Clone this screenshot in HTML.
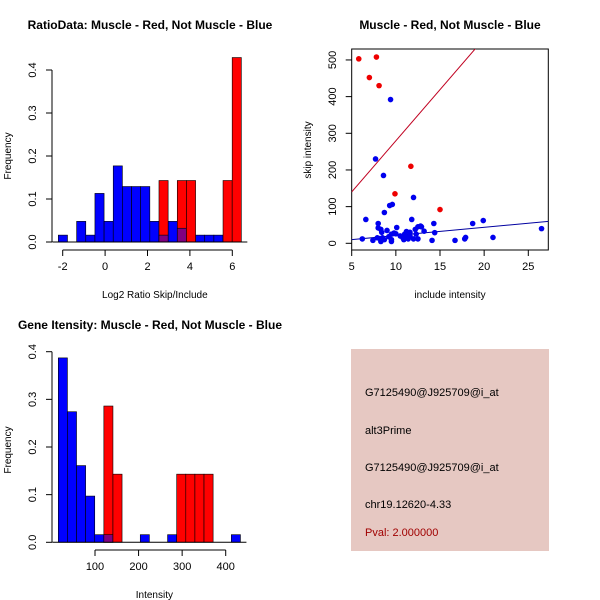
<!DOCTYPE html>
<html><head><meta charset="utf-8"><style>
body{margin:0;background:#fff;}
svg{display:block;font-family:"Liberation Sans",sans-serif;}
</style></head><body>
<svg id="c" width="600" height="600" viewBox="0 0 600 600" xmlns="http://www.w3.org/2000/svg">
<rect width="600" height="600" fill="#fff"/>
<text x="150" y="29" text-anchor="middle" font-size="12" font-weight="bold">RatioData: Muscle - Red, Not Muscle - Blue</text>
<text x="450" y="29" text-anchor="middle" font-size="12" font-weight="bold">Muscle - Red, Not Muscle - Blue</text>
<text x="150" y="329" text-anchor="middle" font-size="12" font-weight="bold">Gene Itensity: Muscle - Red, Not Muscle - Blue</text>
<g id="p1"></g>
<g id="p2"></g>
<g id="p3"></g>
<g>
<rect x="351" y="349" width="198" height="202" fill="#e6c8c2"/>
<text x="365" y="396" font-size="11">G7125490@J925709@i_at</text>
<text x="365" y="434" font-size="11">alt3Prime</text>
<text x="365" y="471" font-size="11">G7125490@J925709@i_at</text>
<text x="365" y="508" font-size="11">chr19.12620-4.33</text>
<text x="365" y="536" font-size="11" fill="#a00000">Pval: 2.000000</text>
</g>
</svg>
<script>
// Ratio histogram data
const ratioBinStart = -2.206, ratioBinWidth = 0.4316;
const ratioBlue = [0.016,0,0.048,0.016,0.113,0.048,0.177,0.129,0.129,0.129,0.048,0.016,0.048,0.032,0,0.016,0.016,0.016,0,0];
const ratioRed  = [0,0,0,0,0,0,0,0,0,0,0,0.143,0,0.143,0.143,0,0,0,0.143,0.429];
const ratioXTicks = [-2,0,2,4,6];
const freqTicks = ["0.0","0.1","0.2","0.3","0.4"];
// Intensity histogram data
const intBinStart = 15.8, intBinWidth = 20.9;
const intBlue = [0.387,0.274,0.161,0.097,0.016,0.016,0,0,0,0.016,0,0,0.016,0,0,0,0,0,0,0.016];
const intRed  = [0,0,0,0,0,0.286,0.143,0,0,0,0,0,0,0.143,0.143,0.143,0.143,0,0,0];
const intXTicks = [100,200,300,400];
// Scatter data
const redX = [5.8,7.8,7,8.1,11.7,9.9,15];
const redY = [503,508,452,430,210,135,92];
const blueX = [9.4,7.7,8.6,12,9.3,9.6,8.7,6.6,11.8,8,14.3,18.7,19.9,8,10.1,8.3,9,12.5,12.8,12.9,12.2,13.2,11.2,11.6,14.4,8.4,9.8,9.5,10,6.2,7.4,7.9,8.2,8.5,8.3,8.7,9.2,9.5,9.5,10.5,10.8,10.9,11.2,11.4,11.6,12,12.3,12.5,11,14.1,16.7,17.8,17.9,21,26.5];
const blueY = [392,230,185,125,103,106,84,65,65,54,54,54,62,42,43,38,35,45,47,45,38,33,32,30,29,30,28,25,26,12,8,15,13,15,5,10,18,10,5,20,15,10,18,12,20,12,25,12,25,8,8,12,16,16,40];
const redLine = [140, 27.9];   // intercept at x=5, slope
const blueLine = [10, 2.24];
const scXTicks = [5,10,15,20,25];
const scYTicks = [0,100,200,300,400,500];

const NS="http://www.w3.org/2000/svg";
function mk(parent,tag,attrs,name){const e=document.createElementNS(NS,tag);for(const k in attrs)e.setAttribute(k,attrs[k]);


parent.appendChild(e);return e;}
function txt(parent,x,y,s,name,extra){const t=mk(parent,'text',Object.assign({x:x,y:y,'font-size':11,'text-anchor':'middle'},extra||{}),name);t.textContent=s;return t;}

function hist(g,xs,ys,y0,start,w,blue,red,xticks,xlab,axisY,yLabY){
  const n=blue.length;
  for(let i=0;i<n;i++){
    const x1=xs(start+i*w),x2=xs(start+(i+1)*w);
    if(blue[i]>0) mk(g,'rect',{x:x1,y:ys(blue[i]),width:x2-x1,height:y0-ys(blue[i]),fill:'#0000ff',stroke:'#000','stroke-width':0.6},'blue-bar');
  }
  for(let i=0;i<n;i++){
    const x1=xs(start+i*w),x2=xs(start+(i+1)*w);
    if(red[i]>0){
      mk(g,'rect',{x:x1,y:ys(red[i]),width:x2-x1,height:y0-ys(red[i]),fill:'#ff0000',stroke:'#000','stroke-width':0.6},'red-bar');
      const m=Math.min(red[i],blue[i]);
      if(m>0) mk(g,'rect',{x:x1,y:ys(m),width:x2-x1,height:y0-ys(m),fill:'#800080',stroke:'#000','stroke-width':0.6},'overlap-bar');
    }
  }
  const xa=xs(start),xb=xs(start+n*w);
  mk(g,'line',{x1:xa-6,x2:xb+6,y1:y0,y2:y0,stroke:'#000'},'baseline');
  const ya=ys(0),yb=ys(0.4);
  mk(g,'line',{x1:52,x2:52,y1:ya,y2:yb,stroke:'#000'},'y-axis');
  freqTicks.forEach((s,i)=>{const y=ys(i*0.1);mk(g,'line',{x1:46,x2:52,y1:y,y2:y,stroke:'#000'},'y-tick');
    txt(g,0,0,s,'y-tick-label',{transform:`translate(36,${y}) rotate(-90)`});});
  txt(g,0,0,'Frequency','y-axis-title',{transform:`translate(11,${yLabY}) rotate(-90)`,'font-size':10});
  mk(g,'line',{x1:xs(xticks[0]),x2:xs(xticks[xticks.length-1]),y1:axisY,y2:axisY,stroke:'#000'},'x-axis');
  xticks.forEach(v=>{const x=xs(v);mk(g,'line',{x1:x,x2:x,y1:axisY,y2:axisY+6,stroke:'#000'},'x-tick');txt(g,x,axisY+20,String(v),'x-tick-label');});
  txt(g,(xa+xb)/2+5,axisY+48,xlab,'x-axis-title',{'font-size':10});
}
{const g=document.getElementById('p1');
 const xs=v=>62.7+(v+2)*21.2, y0=242, ys=v=>y0-v*430;
 hist(g,xs,ys,y0,ratioBinStart,ratioBinWidth,ratioBlue,ratioRed,ratioXTicks,'Log2 Ratio Skip/Include',250,156);}
{const g=document.getElementById('p3');
 const xs=v=>95+(v-100)*0.4357, y0=542.3, ys=v=>y0-v*476.5;
 hist(g,xs,ys,y0,intBinStart,intBinWidth,intBlue,intRed,intXTicks,'Intensity',550,450);}
{const g=document.getElementById('p2');
 const L=351.7,R=548.3,T=49,B=250;
 const xs=v=>351.7+(v-5)*8.83, ys=v=>243.3-v*0.3667;
 mk(g,'rect',{x:L,y:T,width:R-L,height:B-T,fill:'none',stroke:'#000'},'plot-frame');
 const clip=mk(g,'clipPath',{id:'cp'},'clip');mk(clip,'rect',{x:L,y:T,width:R-L,height:B-T},'clip-rect');
 const lx2=27.3;
 mk(g,'line',{x1:xs(5),y1:ys(redLine[0]),x2:xs(lx2),y2:ys(redLine[0]+redLine[1]*(lx2-5)),stroke:'#c00020','clip-path':'url(#cp)'},'red-fit-line');
 mk(g,'line',{x1:xs(5),y1:ys(blueLine[0]),x2:xs(lx2),y2:ys(blueLine[0]+blueLine[1]*(lx2-5)),stroke:'#0000a0','clip-path':'url(#cp)'},'blue-fit-line');
 blueX.forEach((x,i)=>mk(g,'circle',{cx:xs(x),cy:ys(blueY[i]),r:2.8,fill:'#0000ee'},'blue-point'));
 redX.forEach((x,i)=>mk(g,'circle',{cx:xs(x),cy:ys(redY[i]),r:2.8,fill:'#ee0000'},'red-point'));
 scXTicks.forEach(v=>{const x=xs(v);mk(g,'line',{x1:x,x2:x,y1:B,y2:B+6,stroke:'#000'},'x-tick');txt(g,x,B+20,String(v),'x-tick-label');});
 scYTicks.forEach(v=>{const y=ys(v);mk(g,'line',{x1:L-6,x2:L,y1:y,y2:y,stroke:'#000'},'y-tick');txt(g,0,0,String(v),'y-tick-label',{transform:`translate(336,${y}) rotate(-90)`});});
 txt(g,450,298,'include intensity','x-axis-title',{'font-size':10});
 txt(g,0,0,'skip intensity','y-axis-title',{transform:'translate(311,150) rotate(-90)','font-size':10});
}
</script>
</body></html>
